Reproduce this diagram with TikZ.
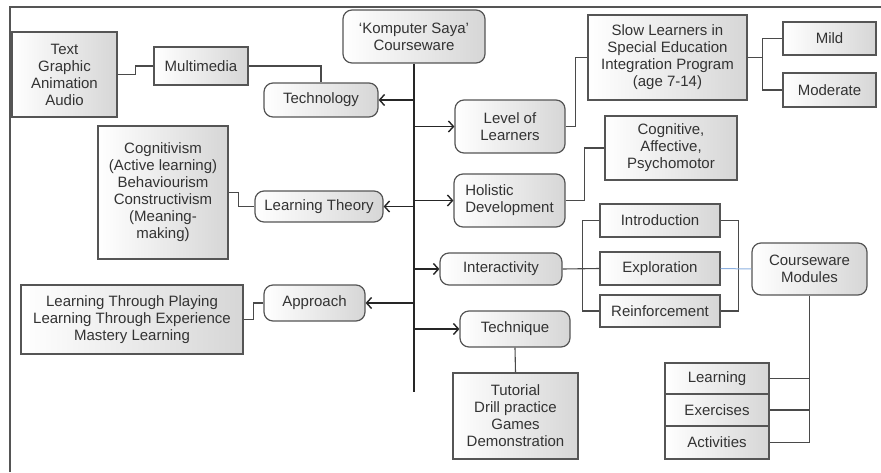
\documentclass[tikz,border=0pt]{standalone}
\usepackage{fontspec}
\setmainfont{Liberation Sans}
\usetikzlibrary{arrows.meta}
\definecolor{ink}{HTML}{333333}
\definecolor{edge}{HTML}{555555}
\definecolor{wire}{HTML}{4A4A4A}
\definecolor{shade}{HTML}{D6D6D6}
\definecolor{linkblue}{HTML}{8CB0E0}
\tikzset{
  x=1pt, y=-1pt,
  txt/.style={font=\fontsize{15}{17}\selectfont, text=ink, align=center, inner sep=2pt},
  sqbox/.style={txt, rectangle, draw=edge, line width=1.4pt, left color=white, right color=shade},
  rbox/.style={txt, rectangle, rounded corners=9pt, draw=edge, line width=1.2pt, left color=white, right color=shade},
  conn/.style={draw=wire, line width=1.1pt},
  trunk/.style={draw=black!85, line width=1.8pt},
  arr/.style={draw=black!85, line width=1.6pt, -{Straight Barb[length=5pt,width=11pt,line width=1.4pt]}},
}
\begin{document}
\begin{tikzpicture}
\useasboundingbox (0,0) rectangle (881,472);
% outer frame (top and left edges)
\draw[edge, line width=1.4pt] (10,472) -- (10,7) -- (881,7);

% central node and trunk
\node[rbox, minimum width=142, minimum height=53] (kom) at (414,36.5) {`Komputer Saya'\\Courseware};
\coordinate (tend) at (414,392);
\draw[trunk] (kom.south) -- (tend);

% left branches
\node[sqbox, minimum width=105, minimum height=85] (tga) at (64.5,74.5) {Text\\Graphic\\Animation\\Audio};
\node[sqbox, minimum width=94, minimum height=38] (mm) at (201,66) {Multimedia};
\node[rbox, minimum width=114, minimum height=34] (tech) at (321,100) {Technology};
\node[sqbox, minimum width=130, minimum height=133] (cog) at (163,192.5) {Cognitivism\\(Active learning)\\Behaviourism\\Constructivism\\(Meaning-\\making)};
\node[rbox, minimum width=128, minimum height=31] (lt) at (319,206.5) {Learning Theory};
\node[rbox, minimum width=101, minimum height=36] (appr) at (314.5,303) {Approach};
\node[sqbox, minimum width=222, minimum height=69] (ltp) at (132,319.5) {Learning Through Playing\\Learning Through Experience\\Mastery Learning};

% right branches
\node[rbox, minimum width=110, minimum height=53] (lvl) at (510,126.5) {Level of\\Learners};
\node[sqbox, minimum width=159, minimum height=85] (slow) at (667.5,57.5) {Slow Learners in\\Special Education\\Integration Program\\(age 7-14)};
\node[sqbox, minimum width=93, minimum height=33] (mild) at (829.5,38.5) {Mild};
\node[sqbox, minimum width=93, minimum height=34] (mod) at (829.5,90) {Moderate};
\node[rbox, minimum width=111, minimum height=53, align=left] (hol) at (509.5,200.5) {Holistic\\Development};
\node[sqbox, minimum width=132, minimum height=64] (cogn) at (671,148) {Cognitive,\\Affective,\\Psychomotor};
\node[rbox, minimum width=122, minimum height=32] (inter) at (501,269) {Interactivity};
\node[sqbox, minimum width=120, minimum height=33] (intro) at (660,220.5) {Introduction};
\node[sqbox, minimum width=120, minimum height=33] (expl) at (660,268.5) {Exploration};
\node[sqbox, minimum width=120, minimum height=32] (reinf) at (660,311) {Reinforcement};
\node[rbox, minimum width=115, minimum height=52] (cm) at (809.5,269) {Courseware\\Modules};
\node[rbox, minimum width=110, minimum height=36] (techn) at (515,329) {Technique};
\node[sqbox, minimum width=125, minimum height=86] (tut) at (515.5,416) {Tutorial\\Drill practice\\Games\\Demonstration};
\node[sqbox, minimum width=104, minimum height=31] (lrn) at (717,378.5) {Learning};
\node[sqbox, minimum width=104, minimum height=32] (exer) at (717,410) {Exercises};
\node[sqbox, minimum width=104, minimum height=33] (act) at (717,442.5) {Activities};

% arrows leaving the trunk
\draw[arr] (kom.south |- tech.east) -- (tech.east);
\draw[arr] (kom.south |- lvl.west) -- (lvl.west);
\draw[arr] (kom.south |- lt.east) -- (lt.east);
\draw[arr] (kom.south |- hol.west) -- (hol.west);
\draw[arr] (kom.south |- inter.west) -- (inter.west);
\draw[arr] (kom.south |- appr.east) -- (appr.east);
\draw[arr] (kom.south |- techn.west) -- (techn.west);

% plain connectors
\draw[conn] (tga.east) -- ++(18,0) |- (mm.west);
\draw[conn] (mm.east) -| (tech.north);
\draw[conn] (cog.east) -- ++(10,0) |- (lt.west);
\draw[conn] (ltp.east) -- ++(10,0) |- (appr.west);
\draw[conn] (lvl.east) -- ++(10,0) |- (slow.west);
\draw[conn] (slow.east) -- ++(15,0) coordinate (sj) |- (mild.west);
\draw[conn] (sj) |- (mod.west);
\draw[conn] (hol.east) -- ++(19,0) |- (cogn.west);
\draw[conn] (inter.east) -- (expl.west);
\draw[conn] (intro.west) -- ++(-17,0) |- (reinf.west);
\draw[conn] (intro.east) -- ++(18,0) |- (reinf.east);
\draw[linkblue, line width=1pt] (expl.east) -- (cm.west);
\draw[conn] (techn.south) -- (tut.north);
\draw[conn] (cm.south) |- (act.east);
\draw[conn] (lrn.east) -- (lrn.east -| cm.south);
\draw[conn] (exer.east) -- (exer.east -| cm.south);
\end{tikzpicture}
\end{document}
